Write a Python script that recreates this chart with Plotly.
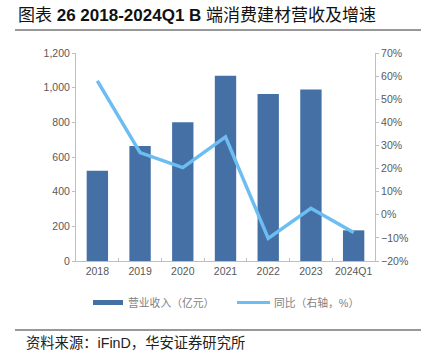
import plotly.graph_objects as go

categories = ["2018", "2019", "2020", "2021", "2022", "2023", "2024Q1"]
revenue = [521, 663, 800, 1069, 963, 990, 177]
yoy = [57.9, 26.9, 20.4, 33.7, -10.2, 2.8, -7.7]
bar_name = "营业收入（亿元）"
line_name = "同比（右轴，%）"
title_parts = ["图表 ", "26 2018-2024Q1 B", " 端消费建材营收及增速"]
source_text = "资料来源：iFinD，华安证券研究所"

BAR_C = "#4570A6"
LINE_C = "#6CBDF2"
GRAY = "#595959"
AX = "#BFBFBF"
FONT = "Liberation Sans, Noto Sans CJK SC, sans-serif"

fig = go.Figure()
fig.add_trace(go.Bar(x=categories, y=revenue, name=bar_name, marker_color=BAR_C,
                     marker_line_width=0, yaxis="y"))
fig.add_trace(go.Scatter(x=categories, y=yoy, name=line_name, mode="lines",
                         line=dict(color=LINE_C, width=3.5), yaxis="y2"))

TF = dict(size=10.5, color=GRAY)
fig.update_layout(
    width=421, height=357,
    margin=dict(l=76, r=46, t=53, b=96),
    paper_bgcolor="white", plot_bgcolor="white",
    showlegend=False,
    bargap=0.5,
    font=dict(family=FONT, size=11, color=GRAY),
    xaxis=dict(type="category", showline=True, linecolor=AX, linewidth=1,
               ticks="inside", tickson="boundaries", ticklen=3, tickcolor=AX,
               tickfont=TF, tickangle=0, showgrid=False, automargin=False),
    yaxis=dict(range=[0, 1200], dtick=200, tickformat=",", showline=True,
               linecolor=AX, linewidth=1, ticks="outside", ticklen=3, tickcolor=AX,
               showgrid=False, zeroline=False, tickfont=TF, automargin=False),
    yaxis2=dict(range=[-20, 70], dtick=10, ticksuffix="%", overlaying="y", side="right",
                showline=True, linecolor=AX, linewidth=1, ticks="outside", ticklen=3,
                tickcolor=AX, showgrid=False, zeroline=False, tickfont=TF,
                automargin=False),
)

def px_x(x):
    return (x - 76) / 299
def px_y(y):
    return (261 - y) / 208

shapes = [
    dict(type="line", xref="paper", yref="paper", x0=px_x(15), x1=px_x(421),
         y0=px_y(30), y1=px_y(30), line=dict(color="#333333", width=1.2)),
    dict(type="line", xref="paper", yref="paper", x0=px_x(15), x1=px_x(421),
         y0=px_y(330), y1=px_y(330), line=dict(color="#333333", width=1.2)),
    dict(type="line", xref="paper", yref="paper", x0=px_x(93), x1=px_x(123),
         y0=px_y(302.5), y1=px_y(302.5), line=dict(color=BAR_C, width=5)),
    dict(type="line", xref="paper", yref="paper", x0=px_x(237), x1=px_x(270),
         y0=px_y(302.5), y1=px_y(302.5), line=dict(color=LINE_C, width=3)),
]
title_html = title_parts[0] + "<b>" + title_parts[1] + "</b>" + title_parts[2]
annotations = [
    dict(text=title_html, xref="paper", yref="paper", x=px_x(16), y=px_y(15),
         xanchor="left", yanchor="middle", showarrow=False,
         font=dict(size=17, color="#111111", family="Liberation Sans, Noto Sans CJK SC")),
    dict(text=bar_name, xref="paper", yref="paper", x=px_x(126), y=px_y(302.5),
         xanchor="left", yanchor="middle", showarrow=False,
         font=dict(size=10.8, color="#7F7F7F")),
    dict(text=line_name, xref="paper", yref="paper", x=px_x(272), y=px_y(302.5),
         xanchor="left", yanchor="middle", showarrow=False,
         font=dict(size=10.8, color="#7F7F7F")),
    dict(text=source_text, xref="paper", yref="paper", x=px_x(24), y=px_y(343),
         xanchor="left", yanchor="middle", showarrow=False,
         font=dict(size=14.3, color="#222222")),
]
fig.update_layout(shapes=shapes, annotations=annotations)
fig.write_html("out.html", config={"displayModeBar": False},
               post_script="document.body.style.margin='0';")
